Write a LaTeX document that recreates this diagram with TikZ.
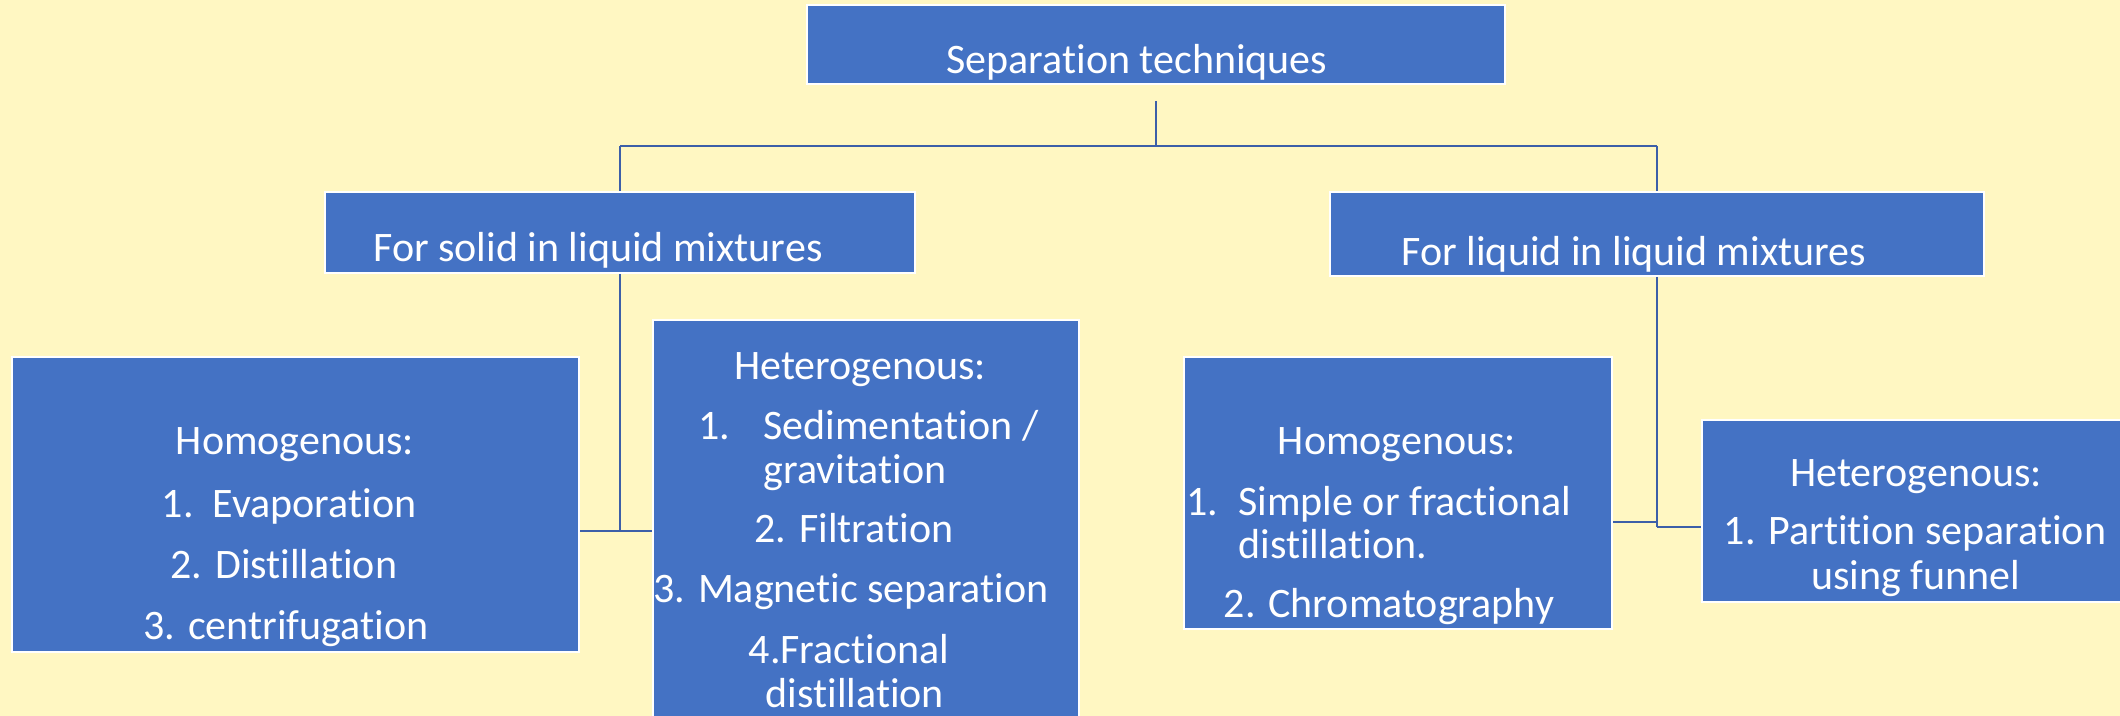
\documentclass[tikz,border=0pt]{standalone}
\usepackage{fontspec}
\setmainfont{Carlito}[Ligatures=NoCommon]
\definecolor{bgyellow}{HTML}{FFF7C2}
\definecolor{boxblue}{HTML}{4472C4}
\definecolor{lineblue}{HTML}{3C5FA8}
\begin{document}
\begin{tikzpicture}[x=0.5pt,y=-0.5pt,
  box/.style={draw=white,line width=1pt,fill=boxblue,rectangle,inner sep=0pt},
  txt/.style={text=white,inner sep=0pt,font=\fontsize{21}{25}\selectfont},
  conn/.style={draw=lineblue,line width=1.3pt}]
\useasboundingbox (0,0) rectangle (2120,716);
\clip (0,0) rectangle (2120,716);
\fill[bgyellow] (0,0) rectangle (2120,716);
% boxes
\node[box,minimum width=349pt,minimum height=39.5pt] (top) at (1156,44.5) {};
\node[box,minimum width=295pt,minimum height=40.5pt] (leftmid) at (620,232.5) {};
\node[box,minimum width=327pt,minimum height=42pt] (rightmid) at (1657,234) {};
\node[box,minimum width=283.5pt,minimum height=147.5pt] (lefthomo) at (295.5,504.5) {};
\node[box,minimum width=213pt,minimum height=220pt] (midhet) at (866,540) {};
\node[box,minimum width=214pt,minimum height=136pt] (righthomo) at (1398,493) {};
\node[box,minimum width=224pt,minimum height=91pt] (righthet) at (1926,511) {};
% texts
\node[txt,anchor=base] (ttop) at (1137,74) {Separation techniques};
\node[txt,anchor=base] (tlm) at (598,262) {For solid in liquid mixtures};
\node[txt,anchor=base] (trm) at (1634,266) {For liquid in liquid mixtures};
\node[txt,anchor=base] (tlh1) at (295,455) {Homogenous:};
\node[txt,anchor=base] (tlh2) at (289,517) {1.\ \ Evaporation};
\node[txt,anchor=base] (tlh3) at (284,578) {2. Distillation};
\node[txt,anchor=base] (tlh4) at (286,639) {3. centrifugation};
\node[txt,anchor=base] (tmh1) at (860,380) {Heterogenous:};
\node[txt,anchor=base west] (tmh2a) at (698,439) {1.};
\node[txt,anchor=base west] (tmh2b) at (763,439) {Sedimentation /};
\node[txt,anchor=base west] (tmh3) at (763,483) {gravitation};
\node[txt,anchor=base] (tmh4) at (854,542) {2. Filtration};
\node[txt,anchor=base] (tmh5) at (851,602) {3. Magnetic separation};
\node[txt,anchor=base] (tmh6) at (849,663) {4.Fractional};
\node[txt,anchor=base] (tmh7) at (855,707) {distillation};
\node[txt,anchor=base] (trh1) at (1397,455) {Homogenous:};
\node[txt,anchor=base west] (trh2a) at (1186,516) {1.};
\node[txt,anchor=base west] (trh2b) at (1238,516) {Simple or fractional};
\node[txt,anchor=base west] (trh3) at (1238,558) {distillation.};
\node[txt,anchor=base] (trh4) at (1389,617) {2. Chromatography};
\node[txt,anchor=base] (tth1) at (1916,487) {Heterogenous:};
\node[txt,anchor=base] (tth2) at (1915,544) {1. Partition separation};
\node[txt,anchor=base] (tth3) at (1916,589) {using funnel};
% junctions
\coordinate (jtop) at (1156,101);
\coordinate (jmid) at (1156,146);
\coordinate (jl) at (620,146);
\coordinate (jr) at (1657,146);
\coordinate (jl2) at (620,531);
\coordinate (jr2) at (1657,527);
\coordinate (jr3) at (1657,522);
% connectors
\draw[conn] (jtop) -- (jmid);
\draw[conn] (jl) -- (jr);
\draw[conn] (jl) -- (leftmid.north);
\draw[conn] (jr) -- (rightmid.north);
\draw[conn] (leftmid.south) -- (jl2);
\draw[conn] (jl2) -- (jl2 -| lefthomo.east);
\draw[conn] (jl2) -- (jl2 -| midhet.west);
\draw[conn] (rightmid.south) -- (jr2);
\draw[conn] (jr2) -- (jr2 -| righthet.west);
\draw[conn] (jr3) -- (jr3 -| righthomo.east);
\end{tikzpicture}
\end{document}
